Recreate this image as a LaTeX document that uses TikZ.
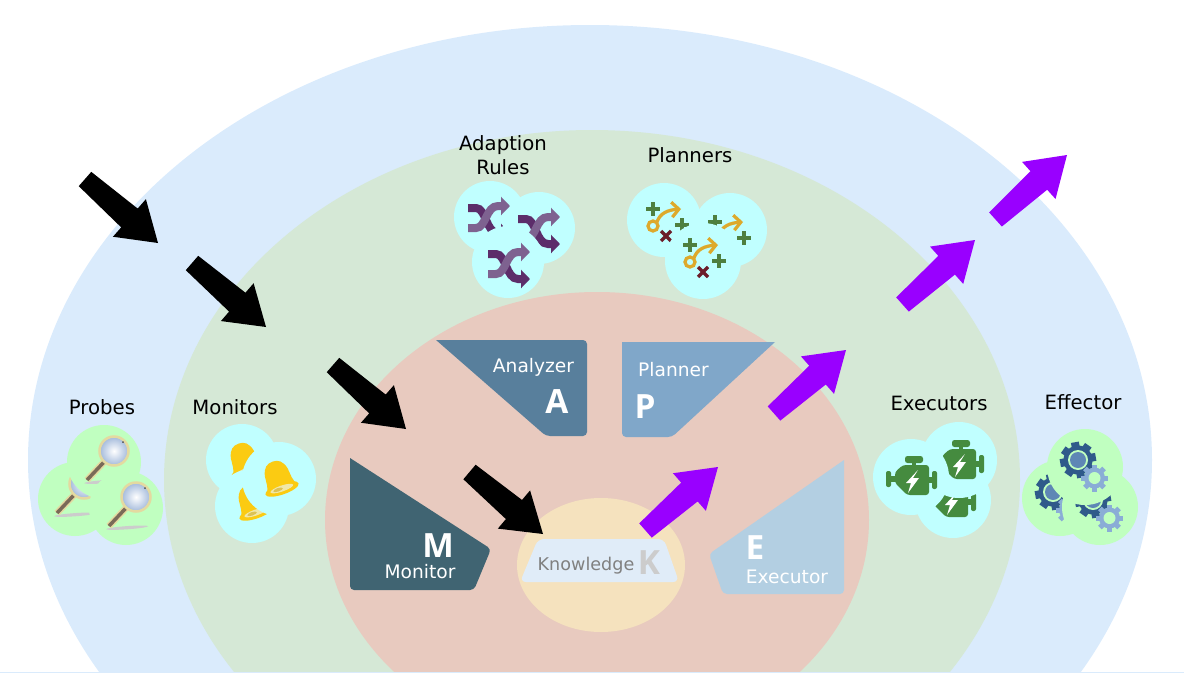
\documentclass[tikz,border=0pt]{standalone}
\usepackage{fontspec}
\setmainfont{DejaVu Sans}
\newfontfamily\letterfont{Open Sans}
\usetikzlibrary{arrows.meta,calc}

\definecolor{zoneblue}{HTML}{DAEBFC}
\definecolor{zonegreen}{HTML}{D5E8D6}
\definecolor{zonered}{HTML}{E8CABF}
\definecolor{zoneyellow}{HTML}{F5E2BE}
\definecolor{mcolor}{HTML}{406472}
\definecolor{acolor}{HTML}{587F9C}
\definecolor{pcolor}{HTML}{80A7C9}
\definecolor{ecolor}{HTML}{B3CFE2}
\definecolor{kcolor}{HTML}{E0ECF8}
\definecolor{mintblob}{HTML}{C0FFC0}
\definecolor{cyanblob}{HTML}{C0FFFF}
\definecolor{bellgold}{HTML}{FBCB12}
\definecolor{bellpale}{HTML}{F0E7A8}
\definecolor{bellkhaki}{HTML}{DCC255}
\definecolor{shufdark}{HTML}{5C2D6A}
\definecolor{shuflight}{HTML}{7E6290}
\definecolor{plangold}{HTML}{DDA92B}
\definecolor{plangreen}{HTML}{4E7F3F}
\definecolor{planred}{HTML}{6B1D2A}
\definecolor{enginegreen}{HTML}{458B3F}
\definecolor{geardark}{HTML}{2F5A8A}
\definecolor{gearmid}{HTML}{5E87B5}
\definecolor{gearlight}{HTML}{8AADD6}
\definecolor{outpurple}{HTML}{9900FF}
\definecolor{ringpale}{HTML}{E4D9A0}
\definecolor{glassblue}{HTML}{A9BEDD}
\definecolor{handlegray}{HTML}{7A6A58}

\tikzset{
  outerlabel/.style={font=\fontsize{11.2}{13.6}\selectfont,align=center,inner sep=0pt},
  innerlabel/.style={font=\fontsize{10.6}{12}\selectfont,text=white,inner sep=0pt},
  letterlabel/.style={font=\letterfont\bfseries\fontsize{19}{19}\selectfont,text=white,inner sep=0pt},
  magnifier/.pic={
    \fill[gray!40,rotate=4] (-11,30) ellipse (21 and 1.6);
    \draw[line width=0.13cm,ringpale] (-10,11) -- (-27,29);
    \draw[line width=0.07cm,handlegray] (-10,11) -- (-27,29);
    \shade[inner color=white,outer color=glassblue] (0,0) circle (13.5);
    \draw[line width=0.05cm,ringpale] (0,0) circle (14.5);
    \fill[black!70] (9,-9) circle (1);
  },
  bellicon/.pic={
    \fill[bellgold] (-17,0) .. controls (-12,-3) and (-13,-12) .. (-12,-18)
      .. controls (-10,-26) and (-6,-29) .. (0,-29)
      .. controls (6,-29) and (10,-26) .. (12,-18)
      .. controls (13,-12) and (12,-3) .. (17,0) -- cycle;
    \fill[bellgold] (0,0) ellipse (17.5 and 5.5);
    \fill[bellpale] (0,-0.5) ellipse (12 and 3);
    \fill[bellkhaki] (-4,-0.5) ellipse (5 and 1.7);
  },
  shuffleicon/.pic={
    \draw[line width=0.16cm,shufdark,-{Triangle[length=0.18cm,width=0.36cm]}]
      (-21,-11) -- (-13,-11) .. controls (-3,-11) and (-3,14) .. (9,14) -- (21,14);
    \draw[line width=0.16cm,shuflight,-{Triangle[length=0.18cm,width=0.36cm]}]
      (-21,9) -- (-13,9) .. controls (-3,9) and (-3,-13) .. (9,-13) -- (21,-13);
  },
  planicon/.pic={
    \draw[line width=0.065cm,plangold] (-13,4) circle (5);
    \draw[line width=0.065cm,plangold,-{Straight Barb[length=0.14cm,width=0.3cm]}]
      (-9,0) .. controls (-6,-9) and (2,-12) .. (15,-13);
    \draw[line width=0.07cm,plangreen] (-20,-13) -- (-6,-13) (-13,-20) -- (-13,-6);
    \draw[line width=0.07cm,plangreen] (9,3) -- (23,3) (16,-4) -- (16,10);
    \draw[line width=0.07cm,planred] (-5,9) -- (5,19) (-5,19) -- (5,9);
  },
  engineicon/.pic={
    \fill[enginegreen,rounded corners=0.05cm] (-6,-19) rectangle (12,-12);
    \fill[enginegreen] (1,-13) rectangle (5,-9);
    \fill[enginegreen,rounded corners=0.06cm] (-8,-10) -- (18,-10) -- (18,20) -- (-4,20) -- (-16,8) -- (-16,-3) -- cycle;
    \fill[enginegreen,rounded corners=0.04cm] (-25,-4) rectangle (-20,12);
    \fill[enginegreen] (-21,1) rectangle (-15,7);
    \fill[enginegreen,rounded corners=0.04cm] (21,-4) rectangle (26,14);
    \fill[enginegreen] (17,2) rectangle (22,8);
    \fill[white] (7,-5) -- (-5,8) -- (0,8) -- (-3,18) -- (8,3) -- (2,3) -- cycle;
  },
  gearicon/.pic={
    \foreach \a in {0,45,...,315}
      \fill[geardark,rotate=\a+10] (-4,-18) rectangle (4,-12);
    \fill[geardark] (0,0) circle (14.5);
    \fill[mintblob] (0,0) circle (10);
    \fill[gearmid] (0,0) circle (8);
    \begin{scope}[shift={(16.5,18)}]
      \foreach \a in {0,45,...,315}
        \fill[gearlight,rotate=\a] (-2.5,-13.5) rectangle (2.5,-8);
      \fill[gearlight] (0,0) circle (10.5);
      \fill[mintblob] (0,0) circle (6);
    \end{scope}
  }
}

\newcommand{\blockarrow}[3]{%
  \coordinate (neck) at ($(#2)!0.76cm!(#1)$);
  \fill[#3] ($(#1)!0.19cm!90:(#2)$) -- ($(neck)!0.25cm!-90:(#1)$) -- ($(neck)!0.5cm!-90:(#1)$) -- (#2)
    -- ($(neck)!0.5cm!90:(#1)$) -- ($(neck)!0.25cm!90:(#1)$) -- ($(#1)!0.19cm!-90:(#2)$) -- cycle;
}

\begin{document}
\begin{tikzpicture}[x=0.02cm,y=-0.02cm]
    \useasboundingbox (0,0) rectangle (1184,673);
    \clip (0,0) rectangle (1184,673);

    % Nested zones
    \fill[zoneblue] (590,460) ellipse (562 and 435);
    \fill[zonegreen] (592,480) ellipse (428 and 350);
    \fill[zonered] (597,520) ellipse (272 and 228);
    \fill[zoneyellow] (601,565) ellipse (84 and 67);
    \fill[zoneblue] (0,672) rectangle (1184,673);

    % MAPE blocks
    \fill[acolor,rounded corners=0.08cm] (587,340) -- (587,436) -- (546,436) [sharp corners] -- (436,340) [rounded corners=0.08cm] -- cycle;
    \fill[pcolor,rounded corners=0.08cm] (622,342) -- (622,437) -- (672,437) [sharp corners] -- (775,342) -- cycle;
    \fill[mcolor,rounded corners=0.08cm] (350,458) -- (350,590) -- (474,590) -- (491,549) [sharp corners] -- cycle;
    \fill[ecolor,rounded corners=0.08cm] (844,460) -- (844,594) -- (723,594) -- (709,554) [sharp corners] -- cycle;
    \fill[kcolor,rounded corners=0.12cm] (538,539) -- (664,539) -- (679,582) -- (520,582) -- cycle;

    \node[innerlabel] (analyzertext) at (533.5,367) {Analyzer};
    \node[letterlabel] (aletter) at (557,402) {A};
    \node[innerlabel] (plannertext) at (673.5,370) {Planner};
    \node[letterlabel] (pletter) at (645,407) {P};
    \node[letterlabel] (mletter) at (438,546) {M};
    \node[innerlabel] (monitortext) at (420,572) {Monitor};
    \node[letterlabel] (eletter) at (755,548) {E};
    \node[innerlabel] (executortext) at (787,577) {Executor};
    \node[innerlabel,text=gray,font=\fontsize{10}{12}\selectfont] (knowledgetext) at (586,566) {Knowledge};
    \node[letterlabel,text=black!20] (kletter) at (649,563) {K};

    % Probes
    \node[outerlabel] (probeslabel) at (102,407) {Probes};
    \fill[mintblob] (75,499) circle (37);
    \pic at (84,484) {magnifier};
    \fill[mintblob] (104,462) circle (37);
    \pic at (114,451) {magnifier};
    \fill[mintblob] (126,508) circle (37);
    \pic at (136,497) {magnifier};

    % Monitors
    \node[outerlabel] (monitorslabel) at (235,407) {Monitors};
    \fill[cyanblob] (242,460) circle (36);
    \pic[rotate=19] at (248,471) {bellicon};
    \fill[cyanblob] (252,506) circle (37);
    \pic[rotate=19] at (256,513) {bellicon};
    \fill[cyanblob] (279,479) circle (37);
    \pic[rotate=19] at (282,489) {bellicon};

    % Adaption rules
    \node[outerlabel] (ruleslabel) at (503,155) {Adaption\\Rules};
    \fill[cyanblob] (490,217) circle (36);
    \pic at (489,219) {shuffleicon};
    \fill[cyanblob] (539,228) circle (36);
    \pic at (539,230) {shuffleicon};
    \fill[cyanblob] (508,262) circle (36);
    \pic at (509,265) {shuffleicon};

    % Planners
    \node[outerlabel] (plannerslabel) at (690,155) {Planners};
    \fill[cyanblob] (664,220) circle (37);
    \pic at (666,222) {planicon};
    \fill[cyanblob] (730,230) circle (37);
    \pic at (728,235) {planicon};
    \fill[cyanblob] (703,261) circle (38);
    \pic at (703,258) {planicon};

    % Executors
    \node[outerlabel] (executorslabel) at (939,403) {Executors};
    \fill[cyanblob] (953,500) circle (38);
    \pic at (950,497) {engineicon};
    \fill[cyanblob] (959,460) circle (38);
    \pic at (958,459) {engineicon};
    \fill[cyanblob] (911,477) circle (38);
    \pic at (911,475) {engineicon};

    % Effector
    \node[outerlabel] (effectorlabel) at (1083,402) {Effector};
    \fill[mintblob] (1060,498) circle (38);
    \pic at (1053,492) {gearicon};
    \fill[mintblob] (1100,507) circle (38);
    \pic at (1093,500) {gearicon};
    \fill[mintblob] (1085,467) circle (38);
    \pic at (1078,460) {gearicon};

    % Black arrows going in
    \coordinate (in1a) at (85,179);   \coordinate (in1b) at (158,243);
    \coordinate (in2a) at (192,263);  \coordinate (in2b) at (266,327);
    \coordinate (in3a) at (333,365);  \coordinate (in3b) at (406,429);
    \coordinate (in4a) at (469.5,472); \coordinate (in4b) at (543,534);
    \blockarrow{in1a}{in1b}{black}
    \blockarrow{in2a}{in2b}{black}
    \blockarrow{in3a}{in3b}{black}
    \blockarrow{in4a}{in4b}{black}

    % Purple arrows going out
    \coordinate (out1a) at (645.5,530.5); \coordinate (out1b) at (718,467);
    \coordinate (out2a) at (774,413.5);   \coordinate (out2b) at (846,350);
    \coordinate (out3a) at (902.5,304.5); \coordinate (out3b) at (975,240);
    \coordinate (out4a) at (995.5,219.5); \coordinate (out4b) at (1067,155);
    \blockarrow{out1a}{out1b}{outpurple}
    \blockarrow{out2a}{out2b}{outpurple}
    \blockarrow{out3a}{out3b}{outpurple}
    \blockarrow{out4a}{out4b}{outpurple}
\end{tikzpicture}
\end{document}
